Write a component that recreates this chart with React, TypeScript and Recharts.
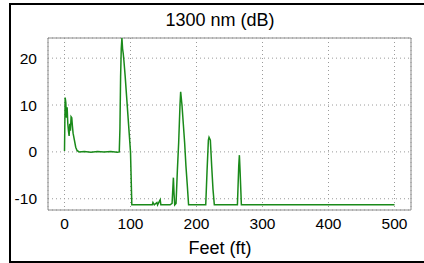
import { LineChart, Line, XAxis, YAxis, CartesianGrid, ReferenceArea } from 'recharts'

// trace samples (feet, dB)
const feet = [
  0, 1, 2, 3, 4, 5, 6, 7, 8, 9, 10, 11, 12, 13, 15, 17, 19, 22, 30, 40, 50, 60, 70, 80, 83, 84, 85, 86, 87, 88,
  89, 90, 92, 94, 96, 98, 100, 102, 110, 120, 133, 134, 136, 140, 141, 145, 146, 160, 163, 165, 166, 167, 169,
  171, 173, 175, 176, 178, 180, 182, 184, 186, 188, 214, 216, 218, 219, 221, 223, 225, 227, 262, 264, 265, 266,
  268, 500,
]
const loss = [
  0.2, 11.6, 10.5, 7.3, 9.5, 6, 4.5, 3.4, 6, 4.5, 7.5, 7.3, 5.5, 4, 2.5, 1, 0.3, 0, 0.1, -0.1, 0.1, 0, 0.1, -0.1,
  0, 5, 16, 22, 24.3, 22, 21, 19.5, 16, 12, 8, 4, 0, -11.3, -11.3, -11.3, -11.3, -10.8, -11.3, -10.8, -11.3,
  -10.2, -11.3, -11.3, -11, -5.5, -9, -11.3, -11, -4, 2, 10, 12.8, 10, 6, 2, -3, -7, -11.3, -11.3, -4, 2.5, 3.1,
  2.5, -3, -8, -11.3, -11.3, -3, -0.7, -4, -11.3, -11.3,
]
const xTicks = [0, 100, 200, 300, 400, 500]
const yTicks = [-10, 0, 10, 20]
const xDomain: [number, number] = [-25, 525]
const yDomain: [number, number] = [-12.4, 24.3]

const data = feet.map((f, i) => ({ f, db: loss[i] }))

const font = 'Liberation Sans, Arial, sans-serif'

export default function App() {
  return (
    <div style={{ position: 'fixed', left: 0, top: 0, width: 424, height: 263, overflow: 'hidden', background: '#fff' }}>
      <div
        style={{
          position: 'absolute',
          left: 9,
          top: 3,
          width: 440,
          height: 256,
          borderLeft: '2px solid #000',
          borderTop: '2px solid #000',
          borderBottom: '2px solid #000',
        }}
      />
      <LineChart
        width={424}
        height={263}
        data={data}
        margin={{ top: 38, right: 13, left: 10, bottom: 23 }}
        style={{ position: 'absolute', left: 0, top: 0, fontFamily: font }}
      >
        <CartesianGrid stroke="#9a9a9a" strokeDasharray="1 3" />
        <XAxis
          dataKey="f"
          type="number"
          domain={xDomain}
          ticks={xTicks}
          axisLine={false}
          tickLine={false}
          tickSize={0}
          tickMargin={8}
          height={30}
          tick={{ fontSize: 15.5, fill: '#000' }}
        />
        <YAxis
          type="number"
          domain={yDomain}
          ticks={yTicks}
          axisLine={false}
          tickLine={false}
          tickSize={0}
          tickMargin={11}
          width={38}
          tick={{ fontSize: 15.5, fill: '#000' }}
        />
        <ReferenceArea x1={xDomain[0]} x2={xDomain[1]} y1={yDomain[0]} y2={yDomain[1]} fill="none" stroke="#8c8c8c" />
        <Line type="linear" dataKey="db" stroke="#1a8a1a" strokeWidth={1.5} dot={false} isAnimationActive={false} />
      </LineChart>
      <svg width={424} height={263} style={{ position: 'absolute', left: 0, top: 0, pointerEvents: 'none' }}>
        <text x={220} y={26} textAnchor="middle" fontFamily={font} fontSize={18} fill="#000">
          1300 nm (dB)
        </text>
        <text x={220} y={254} textAnchor="middle" fontFamily={font} fontSize={18} fill="#000">
          Feet (ft)
        </text>
      </svg>
    </div>
  )
}
